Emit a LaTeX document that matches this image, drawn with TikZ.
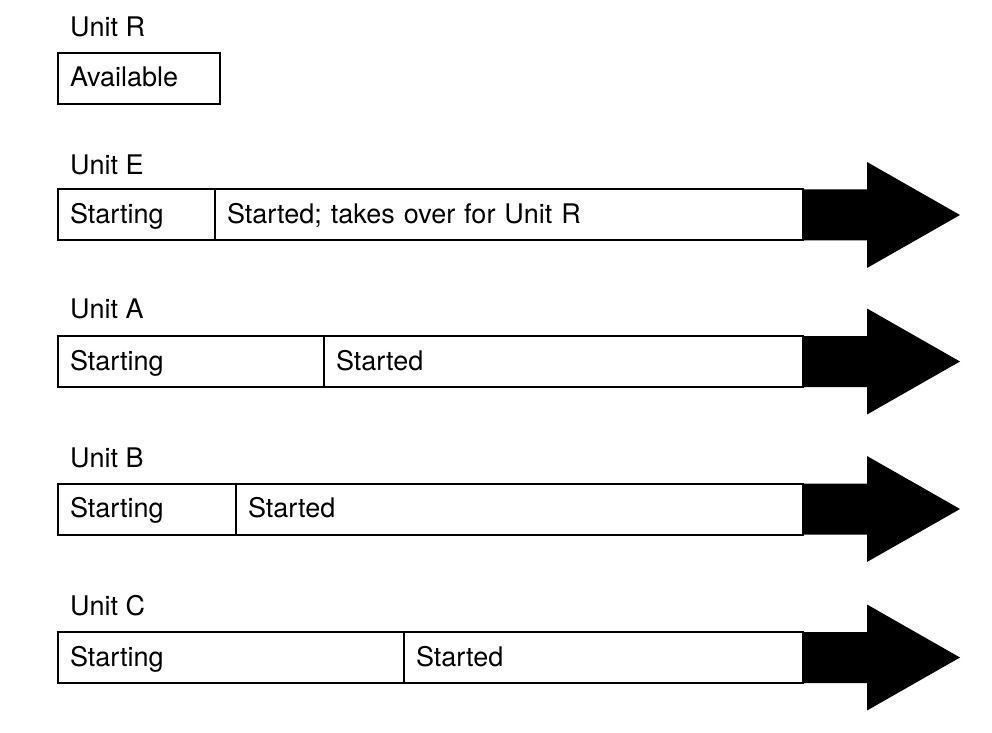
\documentclass[tikz,border=0pt]{standalone}
\usepackage{fontspec}
\setmainfont{TeX Gyre Heros}
\usepackage{tikz}
\usetikzlibrary{positioning}
\usetikzlibrary{calc}
\tikzset{cell/.style={draw,line width=2pt,minimum height=51pt,inner xsep=12pt,inner ysep=0pt,outer sep=0pt,text width=#1,align=left,text height=21pt,text depth=4pt},
unit label/.style={anchor=base west,inner sep=0pt},}
% black arrow head after a bar
\newcommand{\bigarrow}[1]{\fill (#1.north east) -- ++(64,0) -- ++(0,27.5) -- ($(#1.east)+(157,0)$) -- ($(#1.south east)+(64,-27.5)$) -- ++(0,27.5) -- (#1.south east) -- cycle;}

\begin{document}
\begin{tikzpicture}[x=1pt, y=1pt, font=\fontsize{27}{30}\selectfont]
	\useasboundingbox (0,0) rectangle (992,732);
		\node[unit label] (labR) at (70,695) {Unit R};
	    \node[cell=138pt, anchor=west] (availR) at (58,653.5) {Available};

		\node[unit label] (labE) at (70,557) {Unit E};
	    \node[cell=133pt, anchor=west] (startE) at (58,517) {Starting};
	    \node[cell=564pt] (doneE) [right = 0pt of startE] {Started; takes over for Unit R};
	    \bigarrow{doneE}

		\node[unit label] (labA) at (70,414) {Unit A};
	    \node[cell=242pt, anchor=west] (startA) at (58,370.5) {Starting};
	    \node[cell=455pt] (doneA) [right = 0pt of startA] {Started};
	    \bigarrow{doneA}

		\node[unit label] (labB) at (70,265) {Unit B};
	    \node[cell=154pt, anchor=west] (startB) at (58,223) {Starting};
	    \node[cell=543pt] (doneB) [right = 0pt of startB] {Started};
	    \bigarrow{doneB}

		\node[unit label] (labC) at (70,117) {Unit C};
	    \node[cell=322pt, anchor=west] (startC) at (58,74.5) {Starting};
	    \node[cell=375pt] (doneC) [right = 0pt of startC] {Started};
	    \bigarrow{doneC}
	\end{tikzpicture}
\end{document}
